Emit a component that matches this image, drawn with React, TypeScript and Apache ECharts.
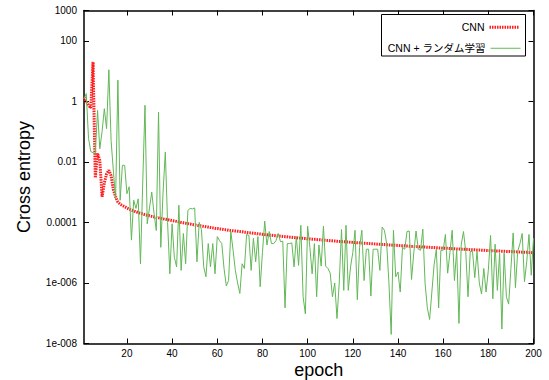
import React, { useEffect, useRef } from "react";
import * as echarts from "echarts";

const seriesNames = ["CNN", "CNN + ランダム学習"];
const xTickValues = [20, 40, 60, 80, 100, 120, 140, 160, 180, 200];
const yTickValues = [1e-8, 1e-6, 1e-4, 0.01, 1, 100, 1000];
const yTickLabels = ["1e-008", "1e-006", "0.0001", "0.01", "1", "100", "1000"];

// CNN (epochs 1..200)
const cnnLoss = [
  1.35, 1.0, 0.75, 0.6, 20, 0.003, 0.019, 0.011, 0.0007, 0.002,
  0.004, 0.0053, 0.0035, 0.0012, 0.0007, 4.7e-4, 4.0e-4, 3.6e-4, 3.3e-4, 3.0e-4,
  2.75e-4, 2.55e-4, 2.4e-4, 2.25e-4, 2.1e-4, 2.0e-4, 1.9e-4, 1.8e-4, 1.72e-4, 1.65e-4,
  1.58e-4, 1.52e-4, 1.46e-4, 1.41e-4, 1.36e-4, 1.31e-4, 1.27e-4, 1.23e-4, 1.19e-4, 1.15e-4,
  1.12e-4, 1.08e-4, 1.04e-4, 1.0e-4, 9.7e-5, 9.4e-5, 9.1e-5, 8.8e-5, 8.5e-5, 8.3e-5,
  8.0e-5, 7.8e-5, 7.6e-5, 7.4e-5, 7.2e-5, 7.0e-5, 6.8e-5, 6.6e-5, 6.4e-5, 6.3e-5,
  6.1e-5, 6.0e-5, 5.8e-5, 5.7e-5, 5.5e-5, 5.4e-5, 5.3e-5, 5.2e-5, 5.1e-5, 5.0e-5,
  4.9e-5, 4.75e-5, 4.66e-5, 4.56e-5, 4.47e-5, 4.38e-5, 4.3e-5, 4.21e-5, 4.13e-5, 4.05e-5,
  3.97e-5, 3.9e-5, 3.83e-5, 3.76e-5, 3.69e-5, 3.63e-5, 3.56e-5, 3.5e-5, 3.44e-5, 3.39e-5,
  3.33e-5, 3.27e-5, 3.22e-5, 3.17e-5, 3.12e-5, 3.07e-5, 3.02e-5, 2.97e-5, 2.93e-5, 2.88e-5,
  2.84e-5, 2.8e-5, 2.76e-5, 2.72e-5, 2.68e-5, 2.64e-5, 2.6e-5, 2.56e-5, 2.53e-5, 2.49e-5,
  2.46e-5, 2.43e-5, 2.39e-5, 2.36e-5, 2.33e-5, 2.3e-5, 2.27e-5, 2.24e-5, 2.21e-5, 2.19e-5,
  2.16e-5, 2.13e-5, 2.11e-5, 2.08e-5, 2.06e-5, 2.03e-5, 2.01e-5, 1.98e-5, 1.96e-5, 1.94e-5,
  1.91e-5, 1.89e-5, 1.87e-5, 1.85e-5, 1.83e-5, 1.81e-5, 1.79e-5, 1.77e-5, 1.75e-5, 1.73e-5,
  1.71e-5, 1.69e-5, 1.68e-5, 1.66e-5, 1.64e-5, 1.62e-5, 1.61e-5, 1.59e-5, 1.57e-5, 1.56e-5,
  1.54e-5, 1.53e-5, 1.51e-5, 1.5e-5, 1.48e-5, 1.47e-5, 1.45e-5, 1.44e-5, 1.43e-5, 1.41e-5,
  1.4e-5, 1.39e-5, 1.37e-5, 1.36e-5, 1.35e-5, 1.33e-5, 1.32e-5, 1.31e-5, 1.3e-5, 1.29e-5,
  1.28e-5, 1.26e-5, 1.25e-5, 1.24e-5, 1.23e-5, 1.22e-5, 1.21e-5, 1.2e-5, 1.19e-5, 1.18e-5,
  1.17e-5, 1.16e-5, 1.15e-5, 1.14e-5, 1.13e-5, 1.12e-5, 1.11e-5, 1.1e-5, 1.1e-5, 1.09e-5,
  1.08e-5, 1.07e-5, 1.06e-5, 1.05e-5, 1.04e-5, 1.04e-5, 1.03e-5, 1.02e-5, 1.01e-5, 1.0e-5,
];

// CNN + random learning (epochs 1..200)
const randomLoss = [
  1.2, 1.8, 0.06, 0.022, 0.02, 0.019, 0.5, 0.027, 0.1, 0.57,
  0.125, 11, 0.05, 0.005, 0.0006, 5, 0.00054, 0.0077, 0.0077, 0.00089,
  0.0015, 2.6e-5, 5.4e-4, 2.9e-4, 6e-4, 4.3e-6, 0.002, 0.74, 9e-5, 3e-4,
  1e-3, 2e-4, 5.4e-5, 0.44, 1.5e-5, 1e-3, 0.021, 1e-4, 2e-6, 9e-5,
  7e-6, 3.4e-6, 3.7e-4, 2.6e-6, 4.3e-5, 4.3e-6, 2.5e-4, 2.9e-4, 2.8e-4, 3e-4,
  5e-6, 1e-4, 5.8e-5, 3.4e-6, 1.6e-6, 2e-5, 3.4e-6, 2e-5, 2e-6, 3.4e-5,
  2.5e-5, 2e-5, 3e-6, 8e-7, 1.2e-6, 5e-5, 1.2e-5, 2.6e-6, 1e-6, 4.5e-7,
  4.3e-6, 3e-6, 4e-5, 3.7e-5, 2.6e-6, 3e-5, 5e-6, 3.4e-5, 7.5e-7, 1e-5,
  1.1e-4, 1.8e-5, 5e-5, 2e-5, 2e-5, 2.5e-5, 4.3e-5, 2.3e-5, 2.4e-5, 1.5e-7,
  2e-5, 2e-5, 2.1e-5, 3.4e-6, 3.4e-5, 3.8e-6, 8e-5, 3.5e-7, 9.5e-8, 7.5e-5,
  1.5e-5, 2e-6, 2e-5, 3.5e-7, 1.8e-5, 3.6e-6, 7.5e-5, 3.6e-6, 3e-6, 2.1e-6,
  3.5e-7, 1e-6, 6.7e-8, 1e-6, 5.8e-5, 5.7e-7, 8e-5, 5.7e-7, 3.4e-6, 1e-5,
  5.5e-5, 2.8e-7, 1.5e-5, 5.5e-5, 1.2e-6, 1.3e-5, 1.3e-5, 3.7e-7, 1.3e-5, 1.3e-5,
  1.3e-5, 2.6e-6, 7e-5, 5.5e-5, 2e-5, 1e-6, 2e-8, 5.5e-5, 1.6e-6, 2.3e-6,
  5e-7, 1.5e-5, 1.3e-5, 5e-5, 5.2e-5, 1.3e-6, 1e-5, 5.2e-5, 1.3e-5, 1.2e-5,
  6e-5, 1e-6, 1.5e-7, 6.2e-8, 5e-7, 4e-6, 1.3e-5, 1.5e-7, 1.2e-5, 1.2e-5,
  4e-5, 2.1e-6, 1e-5, 5.5e-5, 1.2e-6, 1.2e-5, 4.6e-8, 1.8e-5, 5e-5, 1.1e-5,
  3.5e-7, 1.1e-5, 1.1e-5, 1.5e-6, 1.1e-5, 1e-6, 4.3e-7, 3e-6, 5e-7, 2.6e-6,
  3.7e-5, 3e-7, 1.9e-5, 5.7e-7, 9.6e-6, 3e-8, 9.6e-6, 3.5e-7, 2e-7, 3e-6,
  4.5e-5, 7e-7, 1.1e-5, 2e-5, 4.3e-5, 1.1e-6, 5e-6, 4e-5, 1.8e-6, 3e-5,
];

const FONT = '"Liberation Sans", "Noto Sans CJK JP", Arial, sans-serif';
const RED = "#ff1e1e";
const GREEN = "#62b857";

const toPairs = (vals: number[]) => vals.map((v, i) => [i + 1, v]);

const fmtY = (v: number) => {
  const idx = yTickValues.findIndex(
    (t) => Math.abs(Math.log10(t) - Math.log10(v)) < 1e-6
  );
  return idx >= 0 ? yTickLabels[idx] : "";
};

export default function App() {
  const ref = useRef<HTMLDivElement | null>(null);

  useEffect(() => {
    if (!ref.current) return;
    const chart = echarts.init(ref.current, null, { renderer: "svg" });

    const axisLine = { show: true, lineStyle: { color: "#000", width: 1.5 } };
    const tickStyle = { color: "#000", width: 1 };

    const legendCommon = {
      right: 28,
      align: "right",
      padding: 0,
      itemWidth: 30,
      itemHeight: 10,
      z: 10,
      itemStyle: { opacity: 0 },
      textStyle: { fontSize: 10.5, color: "#000", fontFamily: FONT },
    };

    const option: any = {
      animation: false,
      backgroundColor: "#fff",
      grid: {
        left: 84,
        right: 15.5,
        top: 10.5,
        bottom: 36.5,
        containLabel: false,
        outerBoundsMode: "none",
      },
      xAxis: [
        {
          type: "value",
          position: "bottom",
          min: 1,
          max: 200,
          name: "epoch",
          nameLocation: "middle",
          nameGap: 17,
          nameMoveOverlap: false,
          nameTextStyle: {
            fontSize: 18,
            lineHeight: 19,
            color: "#000",
            fontFamily: FONT,
            padding: [0, 0, 0, 20],
            verticalAlign: "top",
          },
          axisLine,
          axisTick: {
            show: true,
            inside: true,
            length: 5,
            customValues: xTickValues,
            lineStyle: tickStyle,
          },
          axisLabel: {
            customValues: xTickValues,
            fontSize: 10,
            color: "#000",
            margin: 5,
            fontFamily: FONT,
          },
          splitLine: { show: false },
        },
        {
          type: "value",
          position: "top",
          min: 1,
          max: 200,
          axisLine,
          axisTick: {
            show: true,
            inside: true,
            length: 5,
            customValues: xTickValues,
            lineStyle: tickStyle,
          },
          axisLabel: { show: false },
          splitLine: { show: false },
        },
      ],
      yAxis: [
        {
          type: "log",
          logBase: 10,
          position: "left",
          min: 1e-8,
          max: 1000,
          name: "Cross entropy",
          nameLocation: "middle",
          nameGap: 51,
          nameMoveOverlap: false,
          nameRotate: 90,
          nameTextStyle: { fontSize: 18, color: "#000", fontFamily: FONT },
          axisLine,
          axisTick: {
            show: true,
            inside: true,
            length: 5,
            customValues: yTickValues,
            lineStyle: tickStyle,
          },
          axisLabel: {
            customValues: yTickValues,
            formatter: fmtY,
            fontSize: 10,
            color: "#000",
            margin: 7,
            fontFamily: FONT,
          },
          splitLine: { show: false },
          minorTick: { show: false },
        },
        {
          type: "log",
          logBase: 10,
          position: "right",
          min: 1e-8,
          max: 1000,
          axisLine,
          axisTick: {
            show: true,
            inside: true,
            length: 5,
            customValues: yTickValues,
            lineStyle: tickStyle,
          },
          axisLabel: { show: false },
          splitLine: { show: false },
        },
      ],
      legend: [
        { ...legendCommon, data: [seriesNames[0]], top: 22, lineStyle: { width: 3 } },
        { ...legendCommon, data: [seriesNames[1]], top: 43, lineStyle: { width: 1 } },
      ],
      graphic: [
        {
          type: "rect",
          z: 5,
          shape: { x: 381.5, y: 14.5, width: 144, height: 41.5 },
          style: { fill: "#fff", stroke: "#000", lineWidth: 1 },
        },
      ],
      series: [
        {
          name: seriesNames[0],
          type: "line",
          xAxisIndex: 0,
          yAxisIndex: 0,
          data: toPairs(cnnLoss),
          symbol: "none",
          showSymbol: false,
          lineStyle: { color: RED, width: 3, type: [1.5, 1] },
          itemStyle: { color: RED },
          z: 2,
        },
        {
          name: seriesNames[1],
          type: "line",
          xAxisIndex: 0,
          yAxisIndex: 0,
          data: toPairs(randomLoss),
          symbol: "none",
          showSymbol: false,
          lineStyle: { color: GREEN, width: 1 },
          itemStyle: { color: GREEN },
          z: 3,
        },
      ],
    };

    chart.setOption(option);
    return () => chart.dispose();
  }, []);

  return (
    <div
      ref={ref}
      style={{ position: "fixed", left: 0, top: 0, width: 549, height: 380, background: "#fff" }}
    />
  );
}
